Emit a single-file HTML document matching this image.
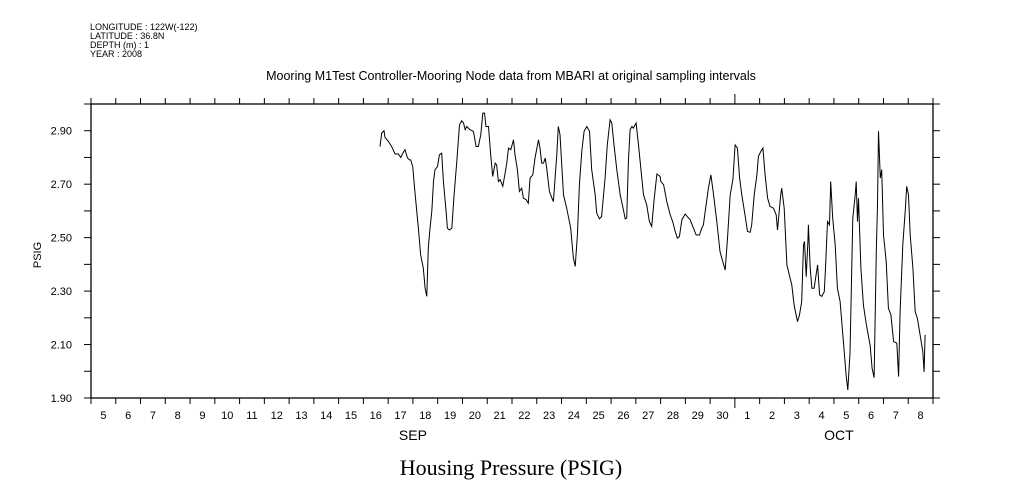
<!DOCTYPE html>
<html><head><meta charset="utf-8"><style>
body{margin:0;background:#fff}
svg{display:block}
text{font-family:"Liberation Sans",sans-serif;fill:#000}
</style></head><body>
<svg id="chart" width="1009" height="504" viewBox="0 0 1009 504" xmlns="http://www.w3.org/2000/svg">
<g font-size="9">
<text x="90" y="30">LONGITUDE : 122W(-122)</text>
<text x="90" y="39">LATITUDE : 36.8N</text>
<text x="90" y="48">DEPTH (m) : 1</text>
<text x="90" y="57">YEAR : 2008</text>
</g>
<text x="511" y="80" font-size="12.5" text-anchor="middle">Mooring M1Test Controller-Mooring Node data from MBARI at original sampling intervals</text>
<text transform="translate(41,255) rotate(-90)" font-size="11" text-anchor="middle">PSIG</text>
<text x="511" y="475" font-size="22" text-anchor="middle" style="font-family:'Liberation Serif',serif">Housing Pressure (PSIG)</text>
<rect x="91" y="104" width="842" height="294" fill="none" stroke="#000" stroke-width="1.3"/>
<g id="axes"></g>
<path id="series" fill="none" stroke="#000" stroke-width="1"/>
</svg>
<script>
const times=[11.67,11.74,11.83,11.87,12.01,12.14,12.28,12.41,12.51,12.59,12.68,12.78,12.86,12.91,12.99,13.09,13.22,13.31,13.42,13.49,13.56,13.62,13.69,13.76,13.83,13.89,13.99,14.07,14.16,14.23,14.34,14.39,14.47,14.57,14.66,14.77,14.88,14.97,15.04,15.11,15.17,15.31,15.44,15.55,15.64,15.74,15.82,15.89,15.95,16.05,16.14,16.22,16.32,16.38,16.45,16.52,16.63,16.72,16.79,16.86,16.95,17.06,17.12,17.22,17.30,17.39,17.46,17.57,17.66,17.73,17.84,17.93,18.07,18.13,18.20,18.27,18.34,18.40,18.51,18.61,18.67,18.74,18.81,18.87,18.94,19.08,19.21,19.37,19.48,19.55,19.64,19.72,19.82,19.91,20.02,20.13,20.22,20.36,20.42,20.53,20.62,20.76,20.85,20.96,21.03,21.12,21.23,21.37,21.50,21.57,21.63,21.70,21.77,21.84,21.90,22.01,22.11,22.20,22.31,22.44,22.55,22.64,22.74,22.85,22.98,23.01,23.12,23.25,23.39,23.49,23.59,23.68,23.76,23.86,23.99,24.19,24.33,24.44,24.57,24.66,24.73,24.80,24.93,25.03,25.14,25.27,25.40,25.51,25.61,25.70,25.81,25.92,26.01,26.10,26.19,26.28,26.41,26.51,26.62,26.68,26.78,26.89,26.95,27.05,27.13,27.22,27.32,27.42,27.56,27.67,27.72,27.80,27.85,27.89,27.99,28.10,28.23,28.30,28.39,28.47,28.53,28.61,28.70,28.77,28.81,28.88,28.95,28.97,29.04,29.11,29.20,29.28,29.34,29.42,29.51,29.61,29.66,29.74,29.82,29.87,29.95,30.05,30.14,30.25,30.38,30.49,30.56,30.65,30.76,30.86,30.90,30.95,30.99,31.09,31.19,31.30,31.46,31.54,31.62,31.71,31.76,31.80,31.87,31.93,32.00,32.11,32.20,32.30,32.41,32.54,32.61,32.67,32.78,32.88,32.94,33.01,33.08,33.19,33.28,33.37,33.48,33.59,33.64,33.68];
const values=[2.841,2.891,2.900,2.875,2.860,2.841,2.813,2.813,2.800,2.816,2.829,2.798,2.791,2.791,2.766,2.660,2.535,2.436,2.386,2.311,2.280,2.461,2.535,2.598,2.710,2.754,2.766,2.810,2.816,2.710,2.598,2.535,2.529,2.535,2.660,2.785,2.922,2.937,2.929,2.904,2.916,2.904,2.898,2.841,2.841,2.885,2.966,2.966,2.916,2.916,2.810,2.729,2.779,2.773,2.710,2.717,2.692,2.741,2.779,2.835,2.829,2.866,2.810,2.754,2.673,2.685,2.648,2.642,2.629,2.723,2.735,2.798,2.866,2.835,2.779,2.779,2.798,2.760,2.673,2.648,2.635,2.723,2.810,2.916,2.885,2.660,2.610,2.535,2.423,2.392,2.510,2.698,2.823,2.898,2.916,2.898,2.754,2.660,2.592,2.570,2.579,2.723,2.847,2.941,2.929,2.847,2.754,2.660,2.604,2.570,2.573,2.785,2.904,2.916,2.910,2.929,2.847,2.760,2.660,2.623,2.560,2.542,2.642,2.738,2.729,2.710,2.698,2.635,2.585,2.560,2.523,2.498,2.504,2.567,2.588,2.567,2.535,2.510,2.510,2.535,2.548,2.598,2.685,2.735,2.660,2.560,2.448,2.411,2.379,2.498,2.660,2.717,2.847,2.835,2.723,2.660,2.585,2.523,2.520,2.548,2.660,2.735,2.804,2.823,2.835,2.735,2.648,2.617,2.610,2.585,2.529,2.610,2.660,2.685,2.610,2.398,2.348,2.323,2.248,2.211,2.186,2.211,2.261,2.473,2.486,2.354,2.486,2.548,2.386,2.311,2.311,2.361,2.398,2.286,2.280,2.298,2.386,2.560,2.548,2.710,2.573,2.473,2.311,2.261,2.111,1.986,1.930,2.067,2.573,2.660,2.710,2.560,2.648,2.386,2.248,2.180,2.098,2.011,1.976,2.448,2.623,2.898,2.723,2.754,2.510,2.411,2.236,2.211,2.111,2.105,1.980,2.223,2.473,2.604,2.692,2.660,2.510,2.386,2.223,2.198,2.136,2.074,1.998,2.136];
const dayLabels=["5","6","7","8","9","10","11","12","13","14","15","16","17","18","19","20","21","22","23","24","25","26","27","28","29","30","1","2","3","4","5","6","7","8"];
const yTickLabels=["1.90","2.10","2.30","2.50","2.70","2.90"];
const monthLabels=["SEP","OCT"];
const monthCenters=[13,30.2];

const X0=91,X1=933,Y0=398,Y1=104,TMAX=34,VMIN=1.9,VMAX=3.0;
const sx=t=>X0+(t/TMAX)*(X1-X0);
const sy=v=>Y0-(v-VMIN)/(VMAX-VMIN)*(Y0-Y1);
const NS="http://www.w3.org/2000/svg";
const axes=document.getElementById('axes');
function line(x1,y1,x2,y2,name){const l=document.createElementNS(NS,'line');
l.setAttribute('x1',x1);l.setAttribute('y1',y1);l.setAttribute('x2',x2);l.setAttribute('y2',y2);
l.setAttribute('stroke','#000');l.setAttribute('stroke-width','1');


axes.appendChild(l);}
function txt(x,y,s,size,anchor,name){const t=document.createElementNS(NS,'text');
t.setAttribute('x',x);t.setAttribute('y',y);t.setAttribute('font-size',size);t.setAttribute('text-anchor',anchor);t.textContent=s;


axes.appendChild(t);}
for(let d=0;d<=TMAX;d++){const x=sx(d);const big=(d===26);
line(x,Y1,x,Y1-(big?10:6),'x-tick-top');line(x,Y0,x,Y0+(big?10:6),'x-tick-bottom');}
dayLabels.forEach((s,i)=>txt(sx(i+0.5),419,s,11,'middle','x-tick-label'));
monthLabels.forEach((s,i)=>txt(sx(monthCenters[i]),440,s,14,'middle','month-label'));
for(let k=0;k<=11;k++){const v=VMIN+k*0.1;const y=sy(v);
line(X0-7,y,X0,y,'y-tick-left');line(X1,y,X1+7,y,'y-tick-right');}
yTickLabels.forEach(s=>txt(72,sy(parseFloat(s))+4,s,11,'end','y-tick-label'));
let d='';times.forEach((t,i)=>{d+=(i?'L':'M')+sx(t).toFixed(1)+','+sy(values[i]).toFixed(1);});
document.getElementById('series').setAttribute('d',d);
</script>
</body></html>
